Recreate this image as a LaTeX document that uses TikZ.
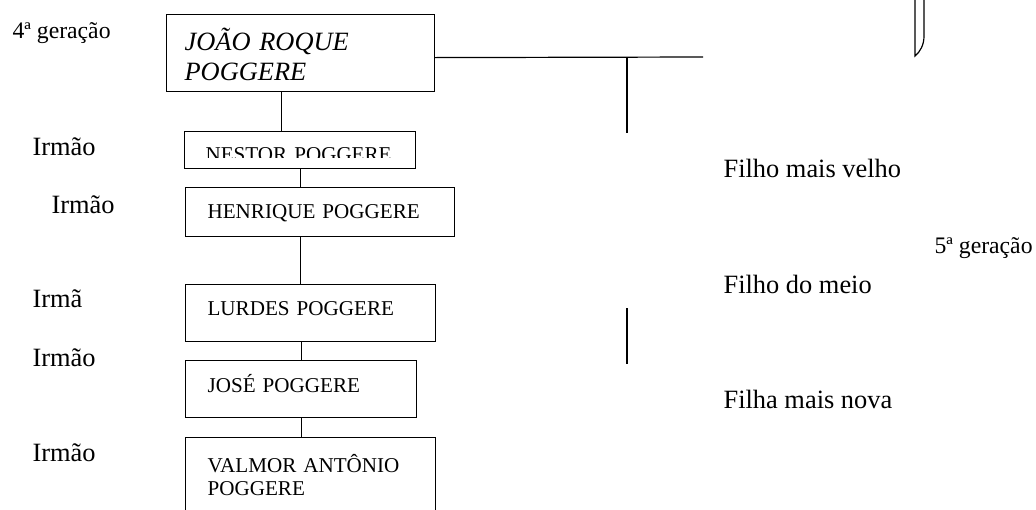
\documentclass[tikz,border=0pt]{standalone}
\usepackage{fontspec}
\setmainfont{Liberation Serif}
\usetikzlibrary{positioning}

\begin{document}
\begin{tikzpicture}[x=0.5pt, y=-0.5pt, line width=0.6pt,
  namebox/.style={draw, anchor=north west, inner ysep=0pt, align=left,
    font=\fontsize{10.55}{12}\selectfont},
  tag/.style={anchor=base west, inner sep=0pt, font=\fontsize{13.2}{15}\selectfont},
  gen/.style={anchor=base west, inner sep=0pt, font=\fontsize{11.85}{14}\selectfont}]
  \clip (0,0) rectangle (1036,509);

\node[namebox, inner xsep=9pt, text width=116pt, text height=18pt, text depth=20.5pt,
  font=\fontsize{13.2}{15}\selectfont\itshape] (J) at (166,14) {JOÃO~ROQUE\\POGGERE};
\node[namebox, inner xsep=10.5pt, text width=94.5pt, text height=15pt, text depth=3.5pt] (N) at (184,131) {NESTOR~POGGERE};
\node[namebox, inner xsep=11pt, text width=112.5pt, text height=15.5pt, text depth=9pt] (H) at (185,187) {HENRIQUE~POGGERE};
\node[namebox, inner xsep=11pt, text width=103pt, text height=15.5pt, text depth=13pt] (L) at (185,284) {LURDES~POGGERE};
\node[namebox, inner xsep=11pt, text width=93.5pt, text height=16pt, text depth=12.5pt] (S) at (185,360) {JOSÉ~POGGERE};
\node[namebox, inner xsep=11pt, text width=103pt, text height=17.5pt, text depth=32.5pt,
  font=\fontsize{10.55}{11.5}\selectfont] (V) at (185,437) {VALMOR~ANTÔNIO\\POGGERE};
\fill[white] (184.8,158) rectangle (414.2,167.2);

\node[gen] (G4) at (12,38.5) {4ª geração};
\node[tag] (I1) at (32,155) {Irmão};
\node[tag] (I2) at (51,213) {Irmão};
\node[tag] (I3) at (32,307) {Irmã};
\node[tag] (I4) at (32,366) {Irmão};
\node[tag] (I5) at (32,461) {Irmão};
\node[tag] (F1) at (723,177) {Filho mais velho};
\node[gen] (G5) at (934,253) {5ª geração};
\node[tag] (F2) at (723,293) {Filho do meio};
\node[tag] (F3) at (723,408) {Filha mais nova};

\coordinate (T) at (627,57);
\coordinate (Tend) at (703,57);
\coordinate (Tdrop) at (627,133);
\coordinate (Mtop) at (627,308);
\coordinate (Mbot) at (627,364);

\draw ([xshift=-9.5pt]J.south) -- ([xshift=-9.5pt]J.south |- N.north);
\draw (N.south) -- (N.south |- H.north);
\draw (H.south -| N.south) -- (N.south |- L.north);
\draw (L.south -| S.north) -- (S.north);
\draw (S.south) -- (S.south |- V.north);
\draw ([yshift=-2.25pt]J.east) -- (Tend);
\draw (T) -- (Tdrop);
\draw (Mtop) -- (Mbot);
\draw (915,-10) -- (915,56) .. controls (920,52) and (924,45) .. (924,36) -- (924,-10);
\end{tikzpicture}
\end{document}
